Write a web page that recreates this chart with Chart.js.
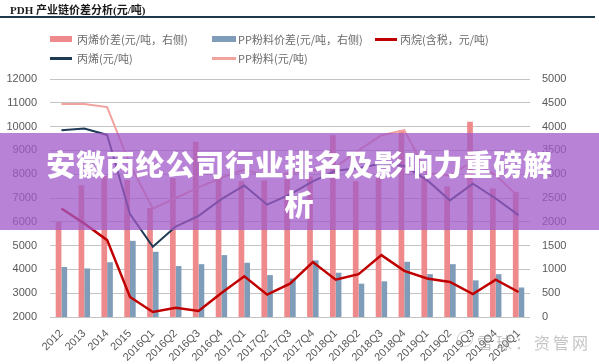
<!DOCTYPE html>
<html>
<head>
<meta charset="utf-8">
<script src="https://cdn.jsdelivr.net/npm/chart.js@4.4.1/dist/chart.umd.min.js"></script>
<style>
  body { margin: 0; width: 599px; height: 364px; overflow: hidden; background: #fff; position: relative; }
  #c { position: absolute; left: 0; top: 0; }
  #title { position: absolute; left: 10px; top: 1px; font: bold 11px "Liberation Serif", "Noto Sans CJK SC", serif; color: #1a1a1a; white-space: nowrap; }
  #rule { position: absolute; left: 0; top: 16px; width: 595px; height: 2px; background: #1f3a4a; }
  .lg { position: absolute; font: 11px "Noto Sans CJK SC", sans-serif; color: #6b6b6b; white-space: nowrap; line-height: 14px; }
  .sw { position: absolute; }
  #banner { position: absolute; left: 0; top: 133px; width: 599px; height: 97px; background: rgba(160, 90, 200, 0.75);
            color: #fff; font: 900 29px "Noto Sans CJK SC", sans-serif; letter-spacing: 0.8px; line-height: 40px;
            text-align: center; padding-top: 10px; box-sizing: border-box; }
  #mark { position: absolute; left: 477px; top: 330px; font: 16px "Noto Sans CJK SC", sans-serif; color: rgba(150,150,150,0.55); letter-spacing: 3px; white-space: nowrap; }
  #logo { position: absolute; left: 457px; top: 331px; width: 14px; height: 14px; border: 1.5px solid rgba(150,150,150,0.45); border-radius: 50%; }
</style>
</head>
<body>
<canvas id="c" width="599" height="364"></canvas>
<div id="title">PDH 产业链价差分析(元/吨)</div>
<div id="rule"></div>
<div id="legend"></div>
<div id="banner">安徽丙纶公司行业排名及影响力重磅解<br>析</div>
<div id="logo"></div>
<div id="mark">雪球：资管网</div>
<script>
const categories = ['2012', '2013', '2014', '2015', '2016Q1', '2016Q2', '2016Q3', '2016Q4',
  '2017Q1', '2017Q2', '2017Q3', '2017Q4', '2018Q1', '2018Q2', '2018Q3', '2018Q4',
  '2019Q1', '2019Q2', '2019Q3', '2019Q4', '2020Q1'];

// bars, right axis
const propyleneSpread = [2000, 2770, 2960, 2880, 2290, 2920, 3680, 2940, 2850, 2870, 2900,
  2950, 3820, 2850, 2920, 3930, 2930, 2740, 4100, 2700, 2630];
const ppSpread = [1050, 1020, 1150, 1600, 1370, 1070, 1110, 1300, 1140, 880, 810,
  1190, 930, 700, 750, 1160, 900, 1110, 770, 900, 620];

// lines, left axis
const propane = [6560, 5930, 5230, 2840, 2210, 2390, 2250, 3010, 3710, 2940, 3400,
  4310, 3570, 3800, 4600, 3940, 3620, 3470, 2960, 3570, 3050];
const propylene = [9850, 9920, 9650, 6320, 4950, 5800, 6250, 6950, 7530, 6720, 7150,
  7700, 8150, 8250, 8450, 8350, 7750, 6900, 7600, 6980, 6280];
const ppPowder = [10950, 10950, 10820, 8400, 6550, 7000, 7450, 7850, 8200, 7900, 8050,
  8150, 8300, 9000, 9640, 9850, 8050, 7950, 8550, 7950, 7050];

const seriesNames = ['丙烯价差(元/吨，右侧)', 'PP粉料价差(元/吨，右侧)', '丙烷(含税，元/吨)', '丙烯(元/吨)', 'PP粉料(元/吨)'];

const leftMin = 2000, leftMax = 12000, leftStep = 1000;
const rightMin = 0, rightMax = 5000, rightStep = 500;

const tickFont = { family: '"Liberation Sans", Arial, sans-serif', size: 11 };
const tickColor = '#595959';
const plain = v => String(v);

const chart = new Chart(document.getElementById('c'), {
  data: {
    labels: categories,
    datasets: [
      { type: 'bar', label: seriesNames[0], data: propyleneSpread, backgroundColor: '#ee8a8b', yAxisID: 'y1', order: 2,
        categoryPercentage: 0.5, barPercentage: 1.0 },
      { type: 'bar', label: seriesNames[1], data: ppSpread, backgroundColor: '#7f9db8', yAxisID: 'y1', order: 2,
        categoryPercentage: 0.5, barPercentage: 1.0 },
      { type: 'line', label: seriesNames[2], data: propane, borderColor: '#c00000', borderWidth: 2.5, pointRadius: 0,
        tension: 0, yAxisID: 'y', order: 1 },
      { type: 'line', label: seriesNames[3], data: propylene, borderColor: '#1f3a55', borderWidth: 2, pointRadius: 0,
        tension: 0, yAxisID: 'y', order: 1 },
      { type: 'line', label: seriesNames[4], data: ppPowder, borderColor: '#f2a19e', borderWidth: 2, pointRadius: 0,
        tension: 0, yAxisID: 'y', order: 1 }
    ]
  },
  options: {
    responsive: false,
    animation: false,
    layout: { padding: { top: 79, left: 0, right: 0, bottom: 0 } },
    plugins: { legend: { display: false }, tooltip: { enabled: false } },
    scales: {
      x: {
        grid: { display: false },
        border: { display: false },
        ticks: { minRotation: 45, maxRotation: 45, autoSkip: false, color: tickColor, font: tickFont, padding: 2 },
        afterFit(s) { s.height = 47; }
      },
      y: {
        position: 'left', min: leftMin, max: leftMax,
        ticks: { stepSize: leftStep, color: tickColor, font: tickFont, padding: 13, callback: plain },
        grid: { color: '#c4c4c4', drawTicks: false },
        border: { display: false },
        afterFit(s) { s.width = 50; }
      },
      y1: {
        position: 'right', min: rightMin, max: rightMax,
        ticks: { stepSize: rightStep, color: tickColor, font: tickFont, padding: 12, callback: plain },
        grid: { display: false, drawTicks: false },
        border: { display: false },
        afterFit(s) { s.width = 69; }
      }
    }
  }
});

// html legend, two rows
const slots = [
  { x: 50, y: 39, w: 22, tx: 77 },
  { x: 212, y: 39, w: 24, tx: 238 },
  { x: 375, y: 39, w: 22, tx: 400 },
  { x: 50, y: 58, w: 22, tx: 77 },
  { x: 212, y: 58, w: 24, tx: 238 }
];
const legend = document.getElementById('legend');
chart.data.datasets.forEach((ds, i) => {
  const s = slots[i];
  const sw = document.createElement('div');
  sw.className = 'sw';
  const h = ds.type === 'bar' ? 6 : 3;
  sw.style.cssText = `left:${s.x}px;top:${s.y - h / 2}px;width:${s.w}px;height:${h}px;background:${ds.type === 'bar' ? ds.backgroundColor : ds.borderColor}`;
  legend.appendChild(sw);
  const t = document.createElement('div');
  t.className = 'lg';
  t.style.left = s.tx + 'px';
  t.style.top = (s.y - 7) + 'px';
  t.textContent = ds.label;
  legend.appendChild(t);
});
</script>
</body>
</html>
